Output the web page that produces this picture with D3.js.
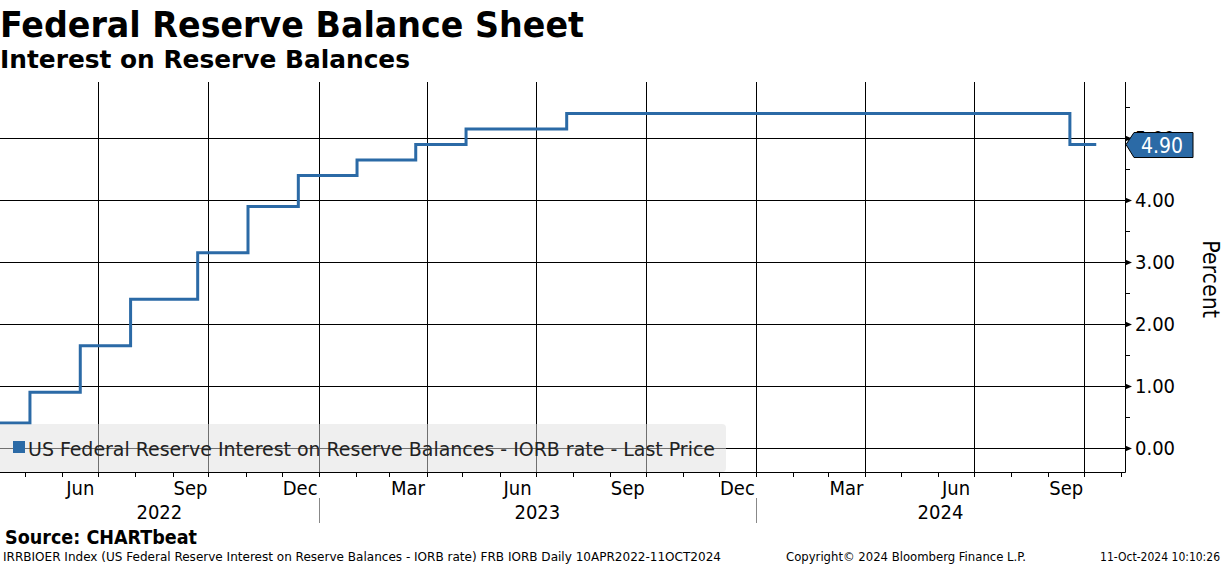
<!DOCTYPE html>
<head>
  <meta charset="utf-8" />
  <title>Federal Reserve Balance Sheet</title>
  <script src="https://d3js.org/d3.v7.min.js"></script>
  <style>
    body { margin: 0; background: #fff; }
    svg { font-family: "DejaVu Sans Condensed", "DejaVu Sans", sans-serif; }
  </style>
</head>
<body>
<script>
  // IORB rate step changes (effective dates) and values, percent
  const stepDates = ["2022-04-10", "2022-05-05", "2022-06-16", "2022-07-28", "2022-09-22",
    "2022-11-03", "2022-12-15", "2023-02-02", "2023-03-23", "2023-05-04", "2023-07-27",
    "2024-09-19", "2024-10-11"];
  const stepValues = [0.40, 0.90, 1.65, 2.40, 3.15, 3.90, 4.40, 4.65, 4.90, 5.15, 5.40, 4.90, 4.90];
  const yTicks = [0, 1, 2, 3, 4, 5];
  const monthLabels = ["Jun", "Sep", "Dec", "Mar", "Jun", "Sep", "Dec", "Mar", "Jun", "Sep"];
  const years = ["2022", "2023", "2024"];
  const lastPrice = 4.90;

  const W = 1224, H = 566;
  const plot = { left: 0, right: 1125, top: 82, bottom: 472 };
  const blue = "#2b6aa6";

  const data = stepDates.map((d, i) => ({ date: new Date(d + "T00:00:00Z"), value: stepValues[i] }));

  const x = d3.scaleUtc()
    .domain([new Date("2022-04-10T00:00:00Z"), new Date("2024-11-04T00:00:00Z")])
    .range([plot.left, plot.right]);
  const y = d3.scaleLinear().domain([-0.39, 5.91]).range([plot.bottom, plot.top]);

  const svg = d3.select("body").append("svg")
    .attr("width", W).attr("height", H)
    .attr("viewBox", [0, 0, W, H]);

  // titles
  svg.append("text").attr("x", 0).attr("y", 37)
    .attr("font-size", 35).attr("font-weight", "bold")
    .attr("textLength", 584).attr("lengthAdjust", "spacingAndGlyphs")
    .text("Federal Reserve Balance Sheet");
  svg.append("text").attr("x", 0).attr("y", 68)
    .attr("font-size", 24).attr("font-weight", "bold")
    .attr("textLength", 410).attr("lengthAdjust", "spacingAndGlyphs")
    .text("Interest on Reserve Balances");

  // quarter gridlines + month ticks
  const quarters = d3.utcMonth.every(3).range(x.domain()[0], x.domain()[1]);
  const months = d3.utcMonth.range(x.domain()[0], x.domain()[1]);

  svg.append("g").attr("stroke", "#000").attr("stroke-width", 1)
    .selectAll("line").data(quarters).join("line")
    .attr("x1", d => Math.round(x(d)) + 0.5).attr("x2", d => Math.round(x(d)) + 0.5)
    .attr("y1", plot.top).attr("y2", plot.bottom + 5);

  svg.append("g").attr("stroke", "#000").attr("stroke-width", 1)
    .selectAll("line").data(months).join("line")
    .attr("x1", d => Math.round(x(d)) + 0.5).attr("x2", d => Math.round(x(d)) + 0.5)
    .attr("y1", plot.bottom).attr("y2", plot.bottom + 5);

  // horizontal gridlines
  svg.append("g").attr("stroke", "#000").attr("stroke-width", 1)
    .selectAll("line").data(yTicks).join("line")
    .attr("x1", plot.left).attr("x2", plot.right)
    .attr("y1", d => Math.round(y(d)) + 0.5).attr("y2", d => Math.round(y(d)) + 0.5);

  // axes frame (bottom + right)
  svg.append("path")
    .attr("d", `M${plot.left},${plot.bottom + 0.5}H${plot.right + 0.5}V${plot.top}`)
    .attr("fill", "none").attr("stroke", "#000");

  // month labels centered on the month before each quarter line
  const labelMonths = quarters.map(q => d3.utcMonth.offset(q, -1))
    .filter(m => m >= x.domain()[0]);
  svg.append("g").attr("font-size", 20).attr("text-anchor", "middle")
    .selectAll("text").data(labelMonths).join("text")
    .attr("x", d => (x(d) + x(d3.utcMonth.offset(d, 1))) / 2)
    .attr("y", 495)
    .text((d, i) => monthLabels[i]);

  // year labels and separators
  const yearStarts = years.map(yr => new Date(yr + "-01-01T00:00:00Z"));
  svg.append("g").attr("font-size", 20).attr("text-anchor", "middle")
    .selectAll("text").data(yearStarts).join("text")
    .attr("x", d => {
      const a = Math.max(x(d), plot.left);
      const b = Math.min(x(d3.utcYear.offset(d, 1)), plot.right);
      return (a + b) / 2;
    })
    .attr("y", 519)
    .text((d, i) => years[i]);
  svg.append("g").attr("stroke", "#888")
    .selectAll("line").data(yearStarts.slice(1)).join("line")
    .attr("x1", d => Math.round(x(d)) + 0.5).attr("x2", d => Math.round(x(d)) + 0.5)
    .attr("y1", 498).attr("y2", 523);

  // right axis ticks
  const halfTicks = d3.range(0.5, 6, 1);
  svg.append("g").attr("stroke", "#000")
    .selectAll("line").data(halfTicks).join("line")
    .attr("x1", plot.right).attr("x2", plot.right + 5)
    .attr("y1", d => Math.round(y(d)) + 0.5).attr("y2", d => Math.round(y(d)) + 0.5);
  svg.append("g").attr("fill", "#000")
    .selectAll("path").data(yTicks).join("path")
    .attr("d", d => {
      const yy = Math.round(y(d)) + 0.5;
      return `M${plot.right},${yy - 3}L${plot.right + 7},${yy}L${plot.right},${yy + 3}Z`;
    });
  svg.append("g").attr("font-size", 20)
    .selectAll("text").data(yTicks).join("text")
    .attr("x", plot.right + 10).attr("y", d => y(d) + 7)
    .text(d => d3.format(".2f")(d));

  svg.append("text")
    .attr("transform", `translate(1203,279) rotate(90)`)
    .attr("text-anchor", "middle").attr("font-size", 23)
    .text("Percent");

  // series line
  const line = d3.line().curve(d3.curveStepAfter)
    .x(d => x(d.date)).y(d => y(d.value));
  svg.append("path").datum(data)
    .attr("d", line)
    .attr("fill", "none").attr("stroke", blue).attr("stroke-width", 3);

  // legend
  const lg = svg.append("g");
  lg.append("rect").attr("x", -4).attr("y", 424).attr("width", 730).attr("height", 48)
    .attr("rx", 4).attr("fill", "#e0e0e0").attr("fill-opacity", 0.5);
  lg.append("rect").attr("x", 13).attr("y", 441).attr("width", 12).attr("height", 12).attr("fill", blue);
  lg.append("text").attr("x", 28).attr("y", 456).attr("font-size", 19).attr("fill", "#222")
    .attr("textLength", 687).attr("lengthAdjust", "spacingAndGlyphs")
    .text("US Federal Reserve Interest on Reserve Balances - IORB rate - Last Price");

  // last price tag (covers the 5.00 label as in the original)
  const ty = y(lastPrice);
  svg.append("path")
    .attr("d", `M${plot.right + 1},${ty}L${plot.right + 9},${ty - 12}H1193V${ty + 13}H${plot.right + 9}Z`)
    .attr("fill", blue).attr("stroke", "#000").attr("stroke-width", 1);
  svg.append("text").attr("x", 1162).attr("y", ty + 8)
    .attr("text-anchor", "middle").attr("font-size", 21).attr("fill", "#fff")
    .text(d3.format(".2f")(lastPrice));

  // footer
  svg.append("text").attr("x", 5).attr("y", 544)
    .attr("font-size", 19).attr("font-weight", "bold")
    .attr("textLength", 192).attr("lengthAdjust", "spacingAndGlyphs")
    .text("Source: CHARTbeat");
  const foot = svg.append("g").attr("font-size", 12).attr("fill", "#000")
    .style("white-space", "pre");
  foot.append("text").attr("x", 3).attr("y", 561)
    .attr("textLength", 718).attr("lengthAdjust", "spacingAndGlyphs")
    .text("IRRBIOER Index (US Federal Reserve Interest on Reserve Balances - IORB rate) FRB IORB  Daily 10APR2022-11OCT2024");
  foot.append("text").attr("x", 786).attr("y", 561)
    .attr("textLength", 240).attr("lengthAdjust", "spacingAndGlyphs")
    .text("Copyright\u00A9 2024 Bloomberg Finance L.P.");
  foot.append("text").attr("x", 1220).attr("y", 561).attr("text-anchor", "end")
    .text("11-Oct-2024 10:10:26");
</script>
</body>
